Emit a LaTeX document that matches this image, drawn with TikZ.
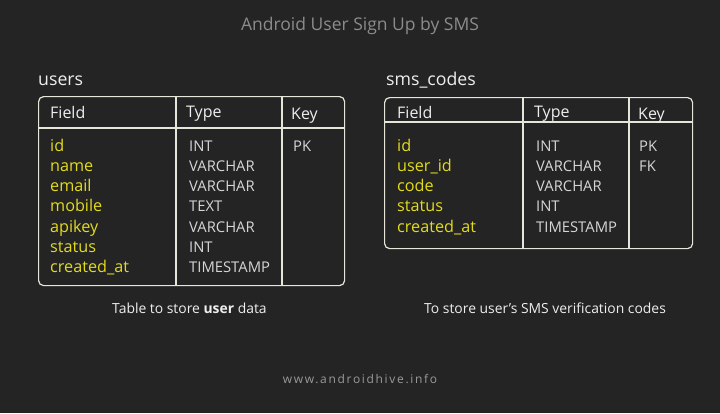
\documentclass[tikz,border=0pt]{standalone}
\usepackage{fontspec}
\setmainfont{Open Sans}
\newfontfamily\spatiat[LetterSpace=14]{Open Sans}
\usetikzlibrary{positioning}
\definecolor{fundal}{HTML}{242424}
\definecolor{gritlu}{HTML}{8C8C8C}
\definecolor{albtext}{HTML}{EEEEEE}
\definecolor{linii}{HTML}{E6E6DA}
\definecolor{galben}{HTML}{E2DB1E}
\definecolor{gritip}{HTML}{D6D6D6}
\definecolor{grisubsol}{HTML}{9A9A9A}

\begin{document}
\begin{tikzpicture}[
        x=1pt, y=-1pt,
        titlu/.style={anchor=base, inner sep=0pt, text=gritlu, font=\fontsize{17.5}{20}\selectfont},
        numetabel/.style={anchor=base west, inner sep=0pt, text=albtext, font=\fontsize{17.7}{20}\selectfont},
        caseta/.style={draw=linii, line width=1.2pt, rounded corners=5pt, anchor=north west, inner sep=0pt},
        linie/.style={draw=linii, line width=1.2pt},
        antet/.style={anchor=base west, inner sep=0pt, text=albtext, font=\fontsize{16}{18}\selectfont},
        camp/.style={anchor=base west, inner sep=0pt, text=galben, font=\fontsize{16.2}{18}\selectfont},
        tipdata/.style={anchor=base west, inner sep=0pt, text=gritip, font=\fontsize{14.8}{17}\selectfont},
        legenda/.style={anchor=base west, inner sep=0pt, text=albtext, font=\fontsize{13.9}{16}\selectfont},
        subsol/.style={anchor=base, inner sep=0pt, text=grisubsol, font=\spatiat\fontsize{12}{14}\selectfont},
    ]
        \useasboundingbox (0,0) rectangle (720,413);
        \fill[fundal] (0,0) rectangle (720,413);
        \node[titlu] (titlu) at (360,30) {Android User Sign Up by SMS};

        % tabelul users
        \node[numetabel] (users) at (38,85) {users};
        \node[caseta, minimum width=306pt, minimum height=189pt] (ubox) at (38,96) {};
        \coordinate (uhead) at (0,128);
        \coordinate (ucol1) at (176,0);
        \coordinate (ucol2) at (282,0);
        \draw[linie] (ubox.west |- uhead) -- (ubox.east |- uhead);
        \draw[linie] (ubox.north -| ucol1) -- (ubox.south -| ucol1);
        \draw[linie] (ubox.north -| ucol2) -- (ubox.south -| ucol2);
        \node[antet] (ufield) at (50,118.3) {Field};
        \node[antet] (utype) at (186,117.3) {Type};
        \node[antet] (ukey) at (291,119.3) {Key};
        \foreach \nume/\tip [count=\i from 0] in {id/INT, name/VARCHAR, email/VARCHAR,
                mobile/TEXT, apikey/VARCHAR, status/INT, created\_at/TIMESTAMP} {
            \node[camp] (uf\i) at (50,151+20.3*\i) {\nume};
            \node[tipdata] (ut\i) at (189,151+20.3*\i) {\tip};
        }
        \node[tipdata] (uk0) at (293,151) {PK};
        \node[legenda] (ulegenda) at (112,313) {Table to store \textbf{user} data};

        % tabelul sms_codes
        \node[numetabel] (sms) at (386,85) {sms\_codes};
        \node[caseta, minimum width=308pt, minimum height=151pt] (sbox) at (384,97) {};
        \coordinate (shead) at (0,122);
        \coordinate (scol1) at (523,0);
        \coordinate (scol2) at (629,0);
        \draw[linie] (sbox.west |- shead) -- (sbox.east |- shead);
        \draw[linie] (sbox.north -| scol1) -- (sbox.south -| scol1);
        \draw[linie] (sbox.north -| scol2) -- (sbox.south -| scol2);
        \node[antet] (sfield) at (397,118.3) {Field};
        \node[antet] (stype) at (534,117.3) {Type};
        \node[antet] (skey) at (638,119.3) {Key};
        \foreach \nume/\tip [count=\i from 0] in {id/INT, user\_id/VARCHAR, code/VARCHAR,
                status/INT, created\_at/TIMESTAMP} {
            \node[camp] (sf\i) at (397,151+20.3*\i) {\nume};
            \node[tipdata] (st\i) at (536,151+20.3*\i) {\tip};
        }
        \node[tipdata] (sk0) at (639,151) {PK};
        \node[tipdata] (sk1) at (639,171.3) {FK};
        \node[legenda] (slegenda) at (424,313) {To store user’s SMS verification codes};

        \node[subsol] (subsol) at (360,383) {www.androidhive.info};
    \end{tikzpicture}
\end{document}
